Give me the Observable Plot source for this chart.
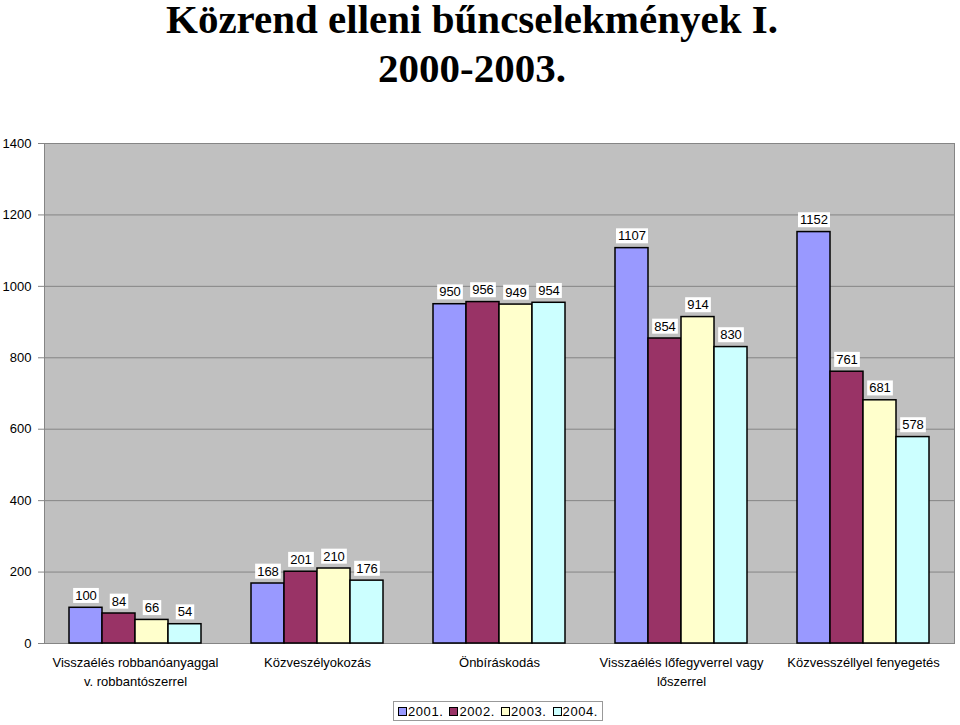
<!DOCTYPE html>
<html>
<head>
<meta charset="utf-8">
<script src="https://cdn.jsdelivr.net/npm/d3@7"></script>
<script src="https://cdn.jsdelivr.net/npm/@observablehq/plot@0.6"></script>
<style>
  html, body { margin: 0; padding: 0; background: #fff; }
  #wrap { position: relative; width: 960px; height: 725px; overflow: hidden; }
  .title { position: absolute; left: 0; width: 944px; text-align: center;
    font-family: "Liberation Serif", "Times New Roman", serif; font-weight: bold; font-size: 41px; line-height: 38px; color: #000; white-space: nowrap; }
  #t1 { top: 0px; }
  #t2 { top: 49px; }
  #chart { position: absolute; left: 0; top: 100px; }
  #legend { position: absolute; left: 393px; top: 701px; width: 210px; height: 20px; border: 1px solid #999;
    display: flex; align-items: center; justify-content: center; gap: 6px;
    font-family: "Liberation Sans", Arial, sans-serif; font-size: 13px; letter-spacing: 0.6px; background: #fff; box-sizing: border-box; }
  #legend .it { display: flex; align-items: center; gap: 1px; }
  #legend .sw { width: 9px; height: 9px; border: 1px solid #000; box-sizing: border-box; }
</style>
</head>
<body>
<div id="wrap">
  <div class="title" id="t1">Közrend elleni bűncselekmények I.</div>
  <div class="title" id="t2">2000-2003.</div>
  <div id="chart"></div>
  <div id="legend"></div>
</div>
<script>
const categories = [
  "Visszaélés robbanóanyaggal\nv. robbantószerrel",
  "Közveszélyokozás",
  "Önbíráskodás",
  "Visszaélés lőfegyverrel vagy\nlőszerrel",
  "Közvesszéllyel fenyegetés"
];
const years = ["2001.", "2002.", "2003.", "2004."];
const colors = ["#9999FF", "#993366", "#FFFFCC", "#CCFFFF"];
const values2001 = [100, 168, 950, 1107, 1152];
const values2002 = [84, 201, 956, 854, 761];
const values2003 = [66, 210, 949, 914, 681];
const values2004 = [54, 176, 954, 830, 578];
const yTicks = [0, 200, 400, 600, 800, 1000, 1200, 1400];

const series = [values2001, values2002, values2003, values2004];
const data = [];
categories.forEach((cat, i) => {
  years.forEach((yr, j) => data.push({cat, year: yr, value: series[j][i]}));
});

const chart = Plot.plot({
  width: 960,
  height: 593,
  marginLeft: 43,
  marginRight: 5,
  marginTop: 43,
  marginBottom: 50,
  style: {fontFamily: "'Liberation Sans', Arial, sans-serif", fontSize: "13px", color: "#000", background: "transparent"},
  fx: {domain: categories, padding: 0, label: null},
  x: {domain: years, paddingInner: 0, paddingOuter: 0.74, axis: null},
  y: {domain: [0, 1400], label: null, axis: null},
  color: {domain: years, range: colors},
  marks: [
    Plot.frame({fill: "#C0C0C0", stroke: null, shapeRendering: "crispEdges"}),
    Plot.ruleY(yTicks, {stroke: "#858585", strokeWidth: 1}),
    Plot.frame({anchor: "left", facetAnchor: "left", stroke: "#858585"}),
    Plot.frame({anchor: "right", facetAnchor: "right", stroke: "#858585"}),
    Plot.axisY({ticks: yTicks, tickFormat: d => String(d), tickSize: 6, tickPadding: 7, label: null, stroke: "#858585", fill: "#000"}),
    Plot.barY(data, {fx: "cat", x: "year", y: "value", fill: "year", stroke: "#000", strokeWidth: 1.5, inset: 0}),
    Plot.text(data, {fx: "cat", x: "year", y: "value", text: d => String(d.value), dy: -12, fontSize: 13, fill: "#000"}),
    Plot.axisFx({anchor: "bottom", tickSize: 0, tickPadding: 10, lineHeight: 1.45, lineAnchor: "top", label: null})
  ]
});
document.getElementById("chart").appendChild(chart);

// white boxes behind value labels
d3.select(chart).selectAll('g[aria-label="text"] text').each(function() {
  const b = this.getBBox();
  const r = document.createElementNS("http://www.w3.org/2000/svg", "rect");
  r.setAttribute("x", b.x - 2);
  r.setAttribute("y", b.y);
  r.setAttribute("width", b.width + 4);
  r.setAttribute("height", b.height);
  r.setAttribute("fill", "#fff");
  const t = this.getAttribute("transform");
  if (t) r.setAttribute("transform", t);
  this.parentNode.insertBefore(r, this);
});

const legend = document.getElementById("legend");
years.forEach((y, i) => {
  const it = document.createElement("div");
  it.className = "it";
  const sw = document.createElement("div");
  sw.className = "sw";
  sw.style.background = colors[i];
  const tx = document.createElement("span");
  tx.textContent = y;
  it.appendChild(sw); it.appendChild(tx);
  legend.appendChild(it);
});
</script>
</body>
</html>
